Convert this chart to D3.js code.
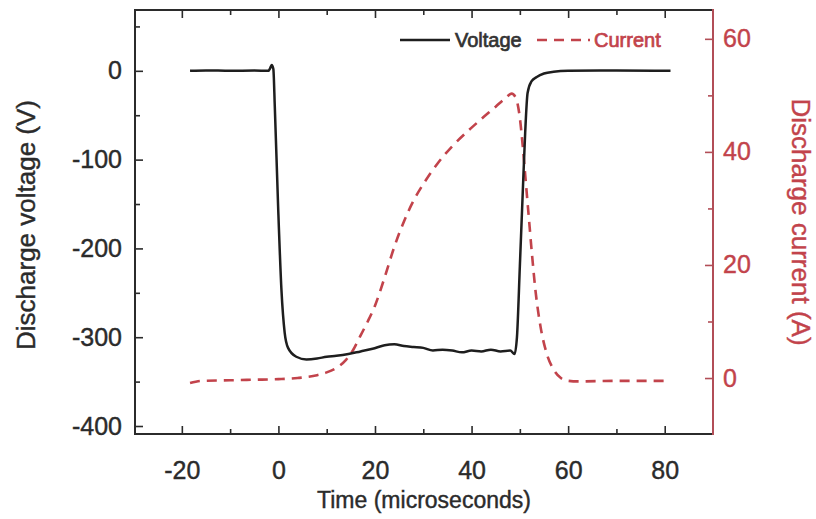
<!DOCTYPE html>
<html>
<head>
<meta charset="utf-8">
<script src="https://cdn.jsdelivr.net/npm/d3@7"></script>
<style>
  body { margin: 0; background: #fff; }
  text { font-family: "Liberation Sans", Arial, sans-serif; }
</style>
</head>
<body>
<svg id="chart" width="816" height="519"></svg>
<script>
// voltage trace (time in microseconds, volts)
var volt_time = [-18.3, -15, -10, -5, -2.1, -1.7, -1.4, -1.05, -0.75, -0.06, 0.63, 1.3, 2.0, 3.7, 5.8,
  8, 10, 12, 14.5, 17, 19.5, 22, 24, 26, 28, 30, 32, 34, 36, 38, 40, 42, 44, 46, 48, 48.9,
  49.4, 50.0, 50.6, 51.1, 51.6, 52.4, 53.5, 55, 57, 60, 70, 81.2];
var volt_vals = [0, 0.5, 0, 0.3, 0, 3, 6.5, 2, -40, -153, -247, -295, -312, -322, -325,
  -324, -322, -321, -319, -316, -313, -309, -308, -310, -311, -312, -315, -314, -315, -317, -315, -316, -314, -316, -315, -319,
  -300, -220, -137, -70, -25, -12, -7, -3, -1, 0, 0.3, 0];

// current trace (time in microseconds, amperes)
var curr_time = [-18.3, -16, -10, -5, 0, 4, 8, 10, 12, 14, 15.5, 17, 18.5, 20, 22, 24, 26, 28, 30, 33, 36, 39,
  42, 45, 47, 48.3, 49.2, 50, 50.6, 51.2, 51.8, 52.5, 53.3, 54.3, 55.5, 57, 58.5, 60, 62, 70, 81];
var curr_vals = [-0.9, -0.5, -0.4, -0.3, -0.2, 0, 0.5, 1, 1.8, 3.2, 5, 7.5, 10, 12.8, 17.8, 23.2, 27.7, 31.4, 34.3, 38, 41, 43.5,
  45.8, 48, 49.5, 50.3, 49.5, 46, 41, 35, 29, 22, 15, 9, 4.5, 1.5, 0, -0.5, -0.6, -0.5, -0.5];

var time_ticks = [-20, 0, 20, 40, 60, 80];
var time_minor = [-10, 10, 30, 50, 70];
var volt_ticks = [-400, -300, -200, -100, 0];
var volt_minor = [-350, -250, -150, -50, 50];
var curr_ticks = [0, 20, 40, 60];
var curr_minor = [10, 30, 50];

var dark = '#2b2b2b';
var red = '#c2434b';
var red_axis = '#b24e57';

var frame = {left: 135, right: 713, top: 10, bottom: 434};

var svg = d3.select('#chart');

var x = d3.scaleLinear().domain([-29.7, 90]).range([frame.left, frame.right]);
var y_volt = d3.scaleLinear().domain([-409, 68.5]).range([frame.bottom, frame.top]);
var y_curr = d3.scaleLinear().domain([-9.9, 65.1]).range([frame.bottom, frame.top]);

// plain hyphen minus like the original plot
var plain = function(d) { return String(d); };

// the scanned figure has slightly heavy glyphs, a thin outline mimics that
function heavy(sel, color, w) {
  sel.attr('fill', color)
    .attr('stroke', color)
    .attr('stroke-width', w || 0.4);
}

function style_axis(g, color, text_color) {
  g.select('.domain').remove();
  g.selectAll('line').attr('stroke', color).attr('stroke-width', 1.6);
  g.selectAll('text')
    .style('font-size', '25px')
    .style('font-family', '"Liberation Sans", Arial, sans-serif')
    .call(heavy, text_color || color);
}

// bottom axis
svg.append('g')
  .attr('transform', 'translate(0,' + frame.bottom + ')')
  .call(d3.axisBottom(x).tickValues(time_ticks).tickFormat(plain).tickSize(-8).tickPadding(27))
  .call(style_axis, dark);
svg.append('g')
  .attr('transform', 'translate(0,' + frame.bottom + ')')
  .call(d3.axisBottom(x).tickValues(time_minor).tickFormat('').tickSize(-5))
  .call(style_axis, dark);

// top mirrored ticks
svg.append('g')
  .attr('transform', 'translate(0,' + frame.top + ')')
  .call(d3.axisTop(x).tickValues(time_ticks).tickFormat('').tickSize(-8))
  .call(style_axis, dark);
svg.append('g')
  .attr('transform', 'translate(0,' + frame.top + ')')
  .call(d3.axisTop(x).tickValues(time_minor).tickFormat('').tickSize(-5))
  .call(style_axis, dark);

// left axis (voltage)
svg.append('g')
  .attr('transform', 'translate(' + frame.left + ',0)')
  .call(d3.axisLeft(y_volt).tickValues(volt_ticks).tickFormat(plain).tickSize(-8).tickPadding(13))
  .call(style_axis, dark);
svg.append('g')
  .attr('transform', 'translate(' + frame.left + ',0)')
  .call(d3.axisLeft(y_volt).tickValues(volt_minor).tickFormat('').tickSize(-5))
  .call(style_axis, dark);

// right axis (current)
svg.append('g')
  .attr('transform', 'translate(' + frame.right + ',0)')
  .call(d3.axisRight(y_curr).tickValues(curr_ticks).tickFormat(plain).tickSize(-8).tickPadding(10))
  .call(style_axis, red_axis, red);
svg.append('g')
  .attr('transform', 'translate(' + frame.right + ',0)')
  .call(d3.axisRight(y_curr).tickValues(curr_minor).tickFormat('').tickSize(-5))
  .call(style_axis, red_axis);

// frame
svg.append('path')
  .attr('d', 'M' + frame.right + ',' + frame.top + 'H' + frame.left + 'V' + frame.bottom + 'H' + frame.right)
  .attr('fill', 'none')
  .attr('stroke', dark)
  .attr('stroke-width', 2);
svg.append('line')
  .attr('x1', frame.right).attr('x2', frame.right)
  .attr('y1', frame.top - 1).attr('y2', frame.bottom + 1)
  .attr('stroke', red_axis)
  .attr('stroke-width', 2);

// traces
var volt_data = volt_time.map(function(t, i) { return [t, volt_vals[i]]; });
var curr_data = curr_time.map(function(t, i) { return [t, curr_vals[i]]; });

svg.append('path')
  .datum(curr_data)
  .attr('fill', 'none')
  .attr('stroke', red)
  .attr('stroke-width', 2.6)
  .attr('stroke-dasharray', '10,7')
  .attr('d', d3.line()
    .x(function(d) { return x(d[0]); })
    .y(function(d) { return y_curr(d[1]); })
    .curve(d3.curveMonotoneX));

svg.append('path')
  .datum(volt_data)
  .attr('fill', 'none')
  .attr('stroke', '#1e1e1e')
  .attr('stroke-width', 2.5)
  .attr('stroke-linejoin', 'round')
  .attr('d', d3.line()
    .x(function(d) { return x(d[0]); })
    .y(function(d) { return y_volt(d[1]); })
    .curve(d3.curveMonotoneX));

// axis titles
svg.append('text')
  .attr('x', (frame.left + frame.right) / 2)
  .attr('y', 508)
  .attr('text-anchor', 'middle')
  .style('font-size', '23px')
  .call(heavy, dark)
  .text('Time (microseconds)');

svg.append('text')
  .attr('transform', 'translate(35,225) rotate(-90)')
  .attr('text-anchor', 'middle')
  .style('font-size', '26px')
  .call(heavy, dark)
  .text('Discharge voltage (V)');

svg.append('text')
  .attr('transform', 'translate(792,222) rotate(90)')
  .attr('text-anchor', 'middle')
  .style('font-size', '26px')
  .call(heavy, red)
  .text('Discharge current (A)');

// legend
var legend = svg.append('g').attr('transform', 'translate(400,40)');
legend.append('line')
  .attr('x1', 0).attr('x2', 50).attr('y1', 0).attr('y2', 0)
  .attr('stroke', '#1e1e1e').attr('stroke-width', 2.5);
legend.append('text')
  .attr('x', 55).attr('y', 7)
  .style('font-size', '20px')
  .call(heavy, '#333', 0.7)
  .text('Voltage');
legend.append('line')
  .attr('x1', 137).attr('x2', 190).attr('y1', 0).attr('y2', 0)
  .attr('stroke', red).attr('stroke-width', 2.6)
  .attr('stroke-dasharray', '10,7');
legend.append('text')
  .attr('x', 194).attr('y', 7)
  .style('font-size', '20px')
  .call(heavy, red, 0.7)
  .text('Current');
</script>
</body>
</html>
